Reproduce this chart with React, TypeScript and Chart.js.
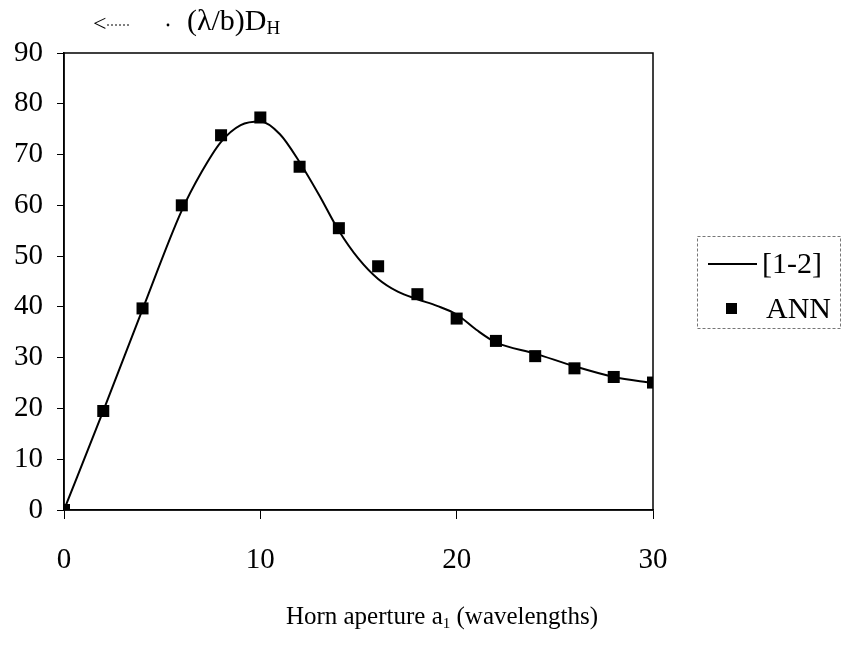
import React, { useEffect, useRef } from "react";
import { Chart, registerables } from "chart.js";
Chart.register(...registerables);

const curveX = [0, 2, 4, 6, 7, 8, 9, 10, 11, 12, 13, 14, 15, 16, 17, 18, 19, 20, 21, 22, 24, 26, 28, 30];
const curveY = [0, 19.5, 39.5, 59, 66.5, 72.5, 75.8, 76.5, 74, 68.5, 62, 55, 49.5, 45.5, 43, 41.5, 40.2, 38.5, 35.5, 33, 30.8, 28.3, 26.2, 25];
const annX = [0, 2, 4, 6, 8, 10, 12, 14, 16, 18, 20, 22, 24, 26, 28, 30];
const annY = [0, 19.5, 39.7, 60, 73.8, 77.3, 67.6, 55.5, 48, 42.5, 37.7, 33.3, 30.3, 27.9, 26.2, 25.1];
const xTickValues = [0, 10, 20, 30];
const yTickValues = [0, 10, 20, 30, 40, 50, 60, 70, 80, 90];
const seriesNames = ["[1-2]", "ANN"];
const titleMain = "(λ/b)D";
const titleSub = "H";
const xTitleMain = "Horn aperture a";
const xTitleSub = "1";
const xTitleRest = " (wavelengths)";

const FONT = "'Liberation Serif', 'Times New Roman', serif";

const decor = {
  id: "decor",
  afterDraw(chart: any) {
    const { ctx, chartArea: a } = chart;
    ctx.save();
    // frame
    ctx.strokeStyle = "#000";
    ctx.lineWidth = 1.5;
    ctx.strokeRect(a.left, a.top, a.right - a.left, a.bottom - a.top);

    // title with arrow
    ctx.fillStyle = "#000";
    ctx.textBaseline = "alphabetic";
    ctx.font = `24px ${FONT}`;
    ctx.fillText("<", 93, 31);
    ctx.setLineDash([2, 2]);
    ctx.lineWidth = 1;
    ctx.beginPath();
    ctx.moveTo(107, 25);
    ctx.lineTo(130, 25);
    ctx.stroke();
    ctx.setLineDash([]);
    ctx.beginPath();
    ctx.arc(168, 25, 1.4, 0, Math.PI * 2);
    ctx.fill();
    ctx.font = `30px ${FONT}`;
    ctx.fillText(titleMain, 187, 30);
    const tw = ctx.measureText(titleMain).width;
    ctx.font = `19px ${FONT}`;
    ctx.fillText(titleSub, 187 + tw, 34);

    // x title
    ctx.font = `25px ${FONT}`;
    const w1 = ctx.measureText(xTitleMain).width;
    const w3 = ctx.measureText(xTitleRest).width;
    ctx.font = `15px ${FONT}`;
    const w2 = ctx.measureText(xTitleSub).width;
    const total = w1 + w2 + w3;
    const sx = 442 - total / 2;
    const by = 624;
    ctx.font = `25px ${FONT}`;
    ctx.fillText(xTitleMain, sx, by);
    ctx.font = `15px ${FONT}`;
    ctx.fillText(xTitleSub, sx + w1, by + 4);
    ctx.font = `25px ${FONT}`;
    ctx.fillText(xTitleRest, sx + w1 + w2, by);

    // legend
    ctx.strokeStyle = "#777";
    ctx.lineWidth = 1;
    ctx.setLineDash([3, 2]);
    ctx.strokeRect(697.5, 236.5, 143, 92);
    ctx.setLineDash([]);
    ctx.strokeStyle = "#000";
    ctx.lineWidth = 2;
    ctx.beginPath();
    ctx.moveTo(708, 264);
    ctx.lineTo(757, 264);
    ctx.stroke();
    ctx.fillRect(726, 303, 11, 11);
    ctx.font = `30px ${FONT}`;
    ctx.textBaseline = "middle";
    ctx.fillText(seriesNames[0], 762, 265);
    ctx.fillText(seriesNames[1], 766, 310);
    ctx.restore();
  },
};

export default function App() {
  const ref = useRef<HTMLCanvasElement | null>(null);
  useEffect(() => {
    document.body.style.margin = "0";
    const canvas = ref.current!;
    const chart = new Chart(canvas, {
      type: "scatter",
      data: {
        datasets: [
          {
            label: seriesNames[0],
            data: curveX.map((x, i) => ({ x, y: curveY[i] })),
            showLine: true,
            borderColor: "#000",
            borderWidth: 2,
            pointRadius: 0,
            cubicInterpolationMode: "monotone",
            order: 2,
          },
          {
            label: seriesNames[1],
            data: annX.map((x, i) => ({ x, y: annY[i] })),
            showLine: false,
            pointStyle: "rect",
            pointRadius: 8.5,
            backgroundColor: "#000",
            borderColor: "#000",
            borderWidth: 0,
            order: 1,
          },
        ],
      },
      options: {
        animation: false,
        responsive: false,
        events: [],
        layout: { padding: { left: 0, top: 53, right: 189, bottom: 80 } },
        plugins: { legend: { display: false }, tooltip: { enabled: false }, title: { display: false } },
        scales: {
          x: {
            type: "linear",
            min: 0,
            max: 30,
            afterBuildTicks: (s: any) => {
              s.ticks = xTickValues.map((v) => ({ value: v }));
            },
            afterFit: (s: any) => {
              s.height = 60;
            },
            grid: { drawOnChartArea: false, drawTicks: true, tickLength: 9, color: "#000", lineWidth: 1 },
            border: { display: true, color: "#000", width: 1.5 },
            ticks: { color: "#000", font: { family: FONT, size: 29 }, padding: 24, maxRotation: 0 },
          },
          y: {
            type: "linear",
            min: 0,
            max: 90,
            afterBuildTicks: (s: any) => {
              s.ticks = yTickValues.map((v) => ({ value: v }));
            },
            afterFit: (s: any) => {
              s.width = 64;
            },
            grid: { drawOnChartArea: false, drawTicks: true, tickLength: 7, color: "#000", lineWidth: 1 },
            border: { display: true, color: "#000", width: 1.5 },
            ticks: { color: "#000", font: { family: FONT, size: 29 }, padding: 14 },
          },
        },
      },
      plugins: [decor],
    } as any);
    return () => chart.destroy();
  }, []);
  return <canvas ref={ref} width={842} height={650} style={{ display: "block" }} />;
}
